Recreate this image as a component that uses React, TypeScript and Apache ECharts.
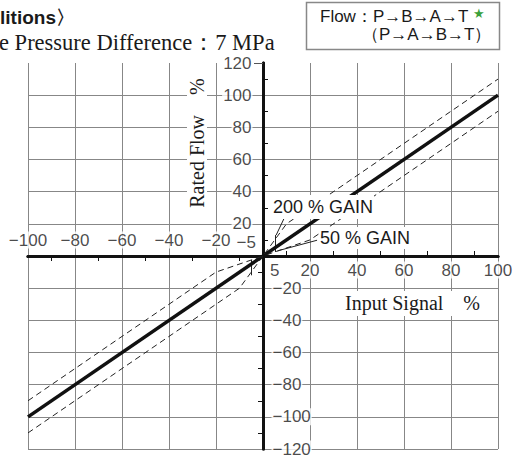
import React, { useEffect, useRef } from "react";
import * as echarts from "echarts";

// Data (percent input signal vs percent rated flow)
const ratedX = [-100, 100];
const ratedY = [-100, 100];
const upperBandX = [-100, -20, 0, 10, 100];
const upperBandY = [-90, -10, 0, 20, 110];
const lowerBandX = [-100, -10, 0, 20, 100];
const lowerBandY = [-110, -20, 0, 10, 90];
const gainMarkerX = [5, -5];
const gainMarkerFrom = [2.5, -2.5];
const gainMarkerTo = [13, -12];
const leader200X = [9.5, 5.6];
const leader200Y = [25, 13];
const leader50X = [23, 6.2];
const leader50Y = [9.8, 3.2];

// Tick labels
const xLabelsBelow = [5, 20, 40, 60, 80, 100];
const xLabelsAbove = [-100, -80, -60, -40, -20, -5];
const xMinorBelow = [10, 30, 50, 70, 90];
const xMinorAbove = [-90, -70, -50, -30, -10];
const yLabelsLeft = [20, 40, 60, 80, 100, 120];
const yLabelsRight = [-20, -40, -60, -80, -100, -120];
const yMinorLeft = [10, 30, 50, 70, 90, 110];
const yMinorRight = [-10, -30, -50, -70, -90, -110];
const yTopTick = [120];

const SANS = "'Liberation Sans', Arial, Helvetica, sans-serif";
const SERIF = "'Liberation Serif', 'Times New Roman', serif";
const INK = "#1a1a1a";
const GRID = "#878787";

const fmt = (v: number) => String(v).replace("-", "\u2212");

export default function App() {
  const ref = useRef<HTMLDivElement>(null);
  useEffect(() => {
    if (!ref.current) return;
    const chart = echarts.init(ref.current, null, { renderer: "svg" });
    const axisLineStyle = { color: "#111", width: 3 };
    const tickStyle = { color: "#111", width: 1 };
    const seg = (xs: number[], ys: number[]) => xs.map((x, i) => [x, ys[i]]);
    const tickLabelSeries = (pts: any[], position: string, distance: number) => ({
      type: "scatter",
      xAxisIndex: 0,
      yAxisIndex: 0,
      symbolSize: 1,
      clip: false,
      silent: true,
      z: 6,
      itemStyle: { color: "rgba(0,0,0,0)" },
      data: pts,
      label: {
        show: true,
        position,
        distance,
        fontFamily: SANS,
        fontSize: 17,
        lineHeight: 17,
        color: INK,
        backgroundColor: "#fff",
        padding: [0, 1],
        formatter: (p: any) => fmt(position === "top" || position === "bottom" ? p.value[0] : p.value[1]),
      },
    });
    const baseX = { type: "value", min: -100, max: 100 };
    const baseY = { type: "value", min: -120, max: 120 };
    const option: any = {
      animation: false,
      grid: {
        left: 28,
        right: 16,
        top: 63,
        bottom: 8,
        containLabel: false,
        outerBoundsMode: "none",
      },
      xAxis: [
        {
          ...baseX,
          interval: 20,
          position: "bottom",
          axisLine: { show: false, onZero: false },
          axisTick: { show: false },
          axisLabel: { show: false },
          splitLine: { show: true, lineStyle: { color: GRID, width: 1 } },
        },
        {
          ...baseX,
          position: "bottom",
          z: 3,
          axisLine: { show: true, onZero: true, onZeroAxisIndex: 0, lineStyle: axisLineStyle },
          axisTick: { show: true, inside: true, length: 5, customValues: xMinorBelow, lineStyle: tickStyle },
          axisLabel: { show: false },
          splitLine: { show: false },
        },
        {
          ...baseX,
          position: "top",
          z: 3,
          axisLine: { show: true, onZero: true, onZeroAxisIndex: 0, lineStyle: axisLineStyle },
          axisTick: { show: true, inside: true, length: 5, customValues: xMinorAbove, lineStyle: tickStyle },
          axisLabel: { show: false },
          splitLine: { show: false },
        },
      ],
      yAxis: [
        {
          ...baseY,
          interval: 20,
          position: "left",
          axisLine: { show: false, onZero: false },
          axisTick: { show: false },
          axisLabel: { show: false },
          splitLine: { show: true, showMaxLine: false, lineStyle: { color: GRID, width: 1 } },
        },
        {
          ...baseY,
          position: "left",
          z: 3,
          axisLine: { show: true, onZero: true, onZeroAxisIndex: 0, lineStyle: axisLineStyle },
          axisTick: { show: true, inside: true, length: 5, customValues: yMinorLeft, lineStyle: tickStyle },
          axisLabel: { show: false },
          splitLine: { show: false },
        },
        {
          ...baseY,
          position: "right",
          z: 3,
          axisLine: { show: true, onZero: true, onZeroAxisIndex: 0, lineStyle: axisLineStyle },
          axisTick: { show: true, inside: true, length: 5, customValues: yMinorRight, lineStyle: tickStyle },
          axisLabel: { show: false },
          splitLine: { show: false },
        },
        {
          ...baseY,
          position: "left",
          z: 3,
          axisLine: { show: false, onZero: true, onZeroAxisIndex: 0 },
          axisTick: { show: true, inside: false, length: 9, customValues: yTopTick, lineStyle: { color: "#555", width: 1 } },
          axisLabel: { show: false },
          splitLine: { show: false },
        },
      ],
      series: [
        {
          type: "line",
          name: "Rated",
          xAxisIndex: 0,
          yAxisIndex: 0,
          data: seg(ratedX, ratedY),
          symbol: "none",
          lineStyle: { color: "#111", width: 3.5 },
          z: 4,
        },
        {
          type: "line",
          name: "Upper",
          xAxisIndex: 0,
          yAxisIndex: 0,
          data: seg(upperBandX, upperBandY),
          symbol: "none",
          lineStyle: { color: "#222", width: 1, type: [6, 4] },
          z: 4,
        },
        {
          type: "line",
          name: "Lower",
          xAxisIndex: 0,
          yAxisIndex: 0,
          data: seg(lowerBandX, lowerBandY),
          symbol: "none",
          lineStyle: { color: "#222", width: 1, type: [6, 4] },
          z: 4,
        },
        {
          type: "lines",
          coordinateSystem: "cartesian2d",
          xAxisIndex: 0,
          yAxisIndex: 0,
          z: 4,
          lineStyle: { color: "#222", width: 1, opacity: 1 },
          data: [
            ...gainMarkerX.map((x, i) => ({ coords: [[x, gainMarkerFrom[i]], [x, gainMarkerTo[i]]] })),
            { coords: seg(leader200X, leader200Y) },
            { coords: seg(leader50X, leader50Y) },
          ],
        },
        tickLabelSeries(xLabelsBelow.map((v) => [v, 0]), "bottom", 5),
        tickLabelSeries(
          xLabelsAbove.map((v) => (v === -5 ? { value: [v, 0], label: { offset: [-5, 2] } } : [v, 0])),
          "top",
          7
        ),
        tickLabelSeries(yLabelsLeft.map((v) => [0, v]), "left", 10),
        tickLabelSeries(yLabelsRight.map((v) => [0, v]), "right", 8),
      ],
      graphic: [
        {
          type: "text",
          x: 0,
          y: 17,
          z: 10,
          style: { text: "litions\u3009", font: `bold 19px ${SANS}`, fill: INK, align: "left", verticalAlign: "middle", textAlign: "left", textVerticalAlign: "middle" },
        },
        {
          type: "text",
          x: -1,
          y: 42,
          z: 10,
          style: { text: "e Pressure Difference\uFF1A7 MPa", font: `22.5px ${SERIF}`, fill: INK, align: "left", verticalAlign: "middle", textAlign: "left", textVerticalAlign: "middle" },
        },
        {
          type: "rect",
          z: 10,
          shape: { x: 306.5, y: 2.5, width: 193, height: 47 },
          style: { fill: "#fff", stroke: "#888", lineWidth: 1.5 },
        },
        {
          type: "text",
          x: 320,
          y: 16,
          z: 11,
          style: { text: "Flow\uFF1AP\u2192B\u2192A\u2192T", font: `17px ${SANS}`, fill: INK, align: "left", verticalAlign: "middle", textAlign: "left", textVerticalAlign: "middle" },
        },
        {
          type: "text",
          x: 479,
          y: 13,
          z: 11,
          style: { text: "\u2605", font: `13px ${SANS}`, fill: "#3aa03a", align: "center", verticalAlign: "middle", textAlign: "center", textVerticalAlign: "middle" },
        },
        {
          type: "text",
          x: 362,
          y: 34,
          z: 11,
          style: { text: "\uFF08P\u2192A\u2192B\u2192T\uFF09", font: `17px ${SANS}`, fill: INK, align: "left", verticalAlign: "middle", textAlign: "left", textVerticalAlign: "middle" },
        },
        {
          type: "text",
          x: 197,
          y: 143,
          z: 10,
          rotation: Math.PI / 2,
          style: { text: "Rated Flow    %", font: `20px ${SERIF}`, fill: INK, backgroundColor: "#fff", padding: [0, 2], align: "center", verticalAlign: "middle", textAlign: "center", textVerticalAlign: "middle" },
        },
        {
          type: "rect",
          z: 10,
          shape: { x: 312, y: 291, width: 184, height: 25 },
          style: { fill: "#fff" },
        },
        {
          type: "text",
          x: 345,
          y: 303,
          z: 11,
          style: { text: "Input Signal    %", font: `20px ${SERIF}`, fill: INK, align: "left", verticalAlign: "middle", textAlign: "left", textVerticalAlign: "middle" },
        },
        {
          type: "text",
          x: 272,
          y: 207,
          z: 10,
          style: { text: "200 % GAIN", font: `18px ${SANS}`, fill: INK, backgroundColor: "#fff", padding: [3, 1], align: "left", verticalAlign: "middle", textAlign: "left", textVerticalAlign: "middle" },
        },
        {
          type: "text",
          x: 319,
          y: 238,
          z: 10,
          style: { text: "50 % GAIN", font: `18px ${SANS}`, fill: INK, backgroundColor: "#fff", padding: [2, 1], align: "left", verticalAlign: "middle", textAlign: "left", textVerticalAlign: "middle" },
        },
      ],
    };
    chart.setOption(option);
    return () => chart.dispose();
  }, []);
  return (
    <div
      ref={ref}
      style={{ position: "absolute", left: 0, top: 0, width: 514, height: 457, background: "#fff" }}
    />
  );
}
